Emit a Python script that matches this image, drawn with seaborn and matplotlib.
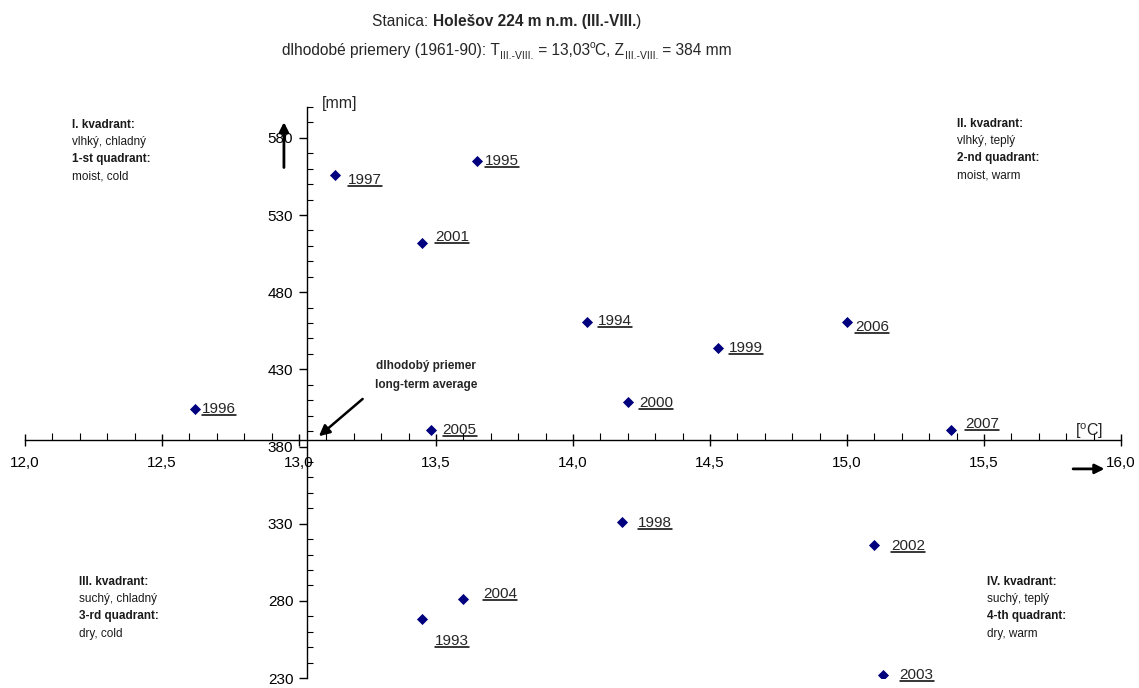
import numpy as np
import pandas as pd
import matplotlib
matplotlib.use('Agg')
import matplotlib.pyplot as plt
import seaborn as sns
from matplotlib.ticker import FixedLocator, MultipleLocator, FuncFormatter

# hodnoty odcitane z grafu (III.-VIII.)
roky = ['1993', '1994', '1995', '1996', '1997', '1998', '1999', '2000',
        '2001', '2002', '2003', '2004', '2005', '2006', '2007']
teplota = [13.45, 14.05, 13.65, 12.62, 13.13, 14.18, 14.53, 14.20,
           13.45, 15.10, 15.13, 13.60, 13.48, 15.00, 15.38]
zrazky = [268, 461, 565, 404, 556, 331, 444, 409,
          512, 316, 232, 281, 391, 461, 391]

# dlhodobe priemery
T_priemer = 13.03
Z_priemer = 384

# posun popisov rokov (px)
posun = {'1993': (30, -22), '1994': (28, 1), '1995': (25, 0), '1996': (24, 0),
         '1997': (30, -5), '1998': (33, -1), '1999': (28, 0), '2000': (28, -1),
         '2001': (30, 6), '2002': (34, -1), '2003': (34, 0), '2004': (37, 5),
         '2005': (29, 0), '2006': (25, -5), '2007': (31, 6)}

df = pd.DataFrame({'rok': roky, 'T': teplota, 'Z': zrazky})

sns.set_style('white')
plt.rcParams['font.family'] = ['Liberation Sans', 'DejaVu Sans']
plt.rcParams['mathtext.fontset'] = 'custom'
plt.rcParams['mathtext.rm'] = 'Liberation Sans'

W, H = 1139, 688
fig = plt.figure(figsize=(W / 100, H / 100), dpi=100)
ax = fig.add_axes([25 / W, 1 - 678 / H, (1121 - 25) / W, (678 - 107) / H])

sns.scatterplot(data=df, x='T', y='Z', marker='D', color='#00007f', s=32,
                edgecolor='#00007f', linewidth=0, ax=ax, zorder=3)

ax.set_xlim(12.0, 16.0)
ax.set_ylim(230, 600)
ax.set_xlabel('')
ax.set_ylabel('')

# osi cez dlhodobe priemery
ax.spines['left'].set_position(('data', T_priemer))
ax.spines['bottom'].set_position(('data', Z_priemer))
ax.spines['top'].set_visible(False)
ax.spines['right'].set_visible(False)
for s in ['left', 'bottom']:
    ax.spines[s].set_color('black')
    ax.spines[s].set_linewidth(1.0)

ax.xaxis.set_major_locator(FixedLocator(np.arange(12.0, 16.01, 0.5)))
ax.xaxis.set_minor_locator(MultipleLocator(0.1))
ax.yaxis.set_major_locator(FixedLocator(np.arange(230, 601, 50)))
ax.yaxis.set_minor_locator(MultipleLocator(10))
ax.xaxis.set_major_formatter(FuncFormatter(lambda v, p: f'{v:.1f}'.replace('.', ',')))
ax.tick_params(bottom=True, left=True, which='both')
ax.tick_params(axis='x', which='major', direction='inout', length=9, width=1,
               labelsize=11, pad=7)
ax.tick_params(axis='x', which='minor', direction='in', length=5, width=0.8)
ax.tick_params(axis='y', which='major', direction='out', length=6, width=1,
               labelsize=11, pad=4)
ax.tick_params(axis='y', which='minor', direction='in', length=4, width=0.8)
ax.tick_params(axis='both', which='both', colors='black')

# jednotky
ax.text(13.085, 602, '[mm]', fontsize=11.5, ha='left', va='center')
ax.text(15.885, 390, '[$^{\\rm o}$C]', fontsize=11.5, ha='center', va='center')

# sipky
ax.annotate('', xy=(12.945, 592), xytext=(12.945, 559),
            arrowprops=dict(arrowstyle='-|>', color='black', lw=2, mutation_scale=14))
ax.annotate('', xy=(15.95, 365.5), xytext=(15.815, 365.5),
            arrowprops=dict(arrowstyle='-|>', color='black', lw=2, mutation_scale=14))
ax.annotate('', xy=(13.065, 385.5), xytext=(13.24, 412),
            arrowprops=dict(arrowstyle='-|>', color='black', lw=1.8, mutation_scale=16))
ax.text(13.465, 426, 'dlhodobý priemer\nlong-term average', fontsize=8.5,
        fontweight='bold', ha='center', va='center', linespacing=1.75)

# popisy rokov (podciarknute)
popisy = []
for r, x, y in zip(roky, teplota, zrazky):
    dx, dy = posun[r]
    t = ax.annotate(r, (x, y), xytext=(dx, dy), textcoords='offset pixels',
                    fontsize=11, ha='center', va='center')
    popisy.append(t)

# kvadranty
def kvadrant(x, y, nadpis1, text1, nadpis2, text2):
    riadky = [(nadpis1, 'bold'), (text1, 'normal'), (nadpis2, 'bold'), (text2, 'normal')]
    for i, (s, w) in enumerate(riadky):
        fig.text(x / W, 1 - (y + i * 17.2) / H, s, fontsize=8.5, fontweight=w,
                 ha='left', va='center', color='#1a1a1a')

kvadrant(72, 125, 'I. kvadrant:', 'vlhký, chladný', '1-st quadrant:', 'moist, cold')
kvadrant(957, 124, 'II. kvadrant:', 'vlhký, teplý', '2-nd quadrant:', 'moist, warm')
kvadrant(79, 582, 'III. kvadrant:', 'suchý, chladný', '3-rd quadrant:', 'dry, cold')
kvadrant(987, 582, 'IV. kvadrant:', 'suchý, teplý', '4-th quadrant:', 'dry, warm')

# nadpis zlozeny z casti
def riadok(y, casti, fs=11.2, cx=507):
    r = fig.canvas.get_renderer()
    texty = []
    for s, kw in casti:
        kw = dict(kw)
        dy = kw.pop('dy', 0)
        t = fig.text(0, 1 - (y - dy) / H, s, fontsize=kw.pop('fs', fs),
                     ha='left', va='baseline', **kw)
        texty.append(t)
    sirky = [t.get_window_extent(r).width / W for t in texty]
    x = cx / W - sum(sirky) / 2
    for t, w in zip(texty, sirky):
        t.set_x(x)
        x += w

riadok(26, [('Stanica:\u00a0', {}),
            ('Holešov 224 m n.m. (III.-VIII.', {'fontweight': 'bold'}),
            (')', {})])
riadok(55, [('dlhodobé priemery (1961-90):\u00a0T', {}),
            ('III.-VIII.', {'fs': 7.5, 'dy': -4}),
            ('\u00a0= 13,03', {}),
            ('o', {'fs': 7.5, 'dy': 7}),
            ('C, Z', {}),
            ('III.-VIII.', {'fs': 7.5, 'dy': -4}),
            ('\u00a0= 384 mm', {})])

# podciarknutie popisov
fig.canvas.draw()
r = fig.canvas.get_renderer()
for t in popisy:
    bb = t.get_window_extent(r)
    yb = bb.y0 + 1
    fig.add_artist(plt.Line2D([bb.x0 / W, bb.x1 / W], [yb / H, yb / H],
                              color='black', lw=1.1, transform=fig.transFigure))

fig.savefig('out.png', dpi=100)
